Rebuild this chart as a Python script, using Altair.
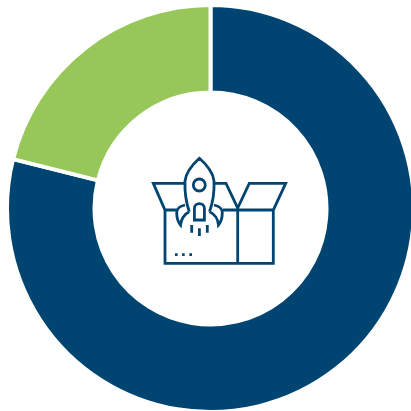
import altair as alt
import pandas as pd

# Donut shares, clockwise from twelve o'clock
segments = ["major", "minor"]
shares = [78.9, 21.1]
slice_order = [0, 1]
palette = ["#004571", "#96c758"]

INK = "#004571"

# Open box with a rocket rising out of it, as one outline path
BOX_ICON = (
    "M176.7,210 L165,210 L153.3,183.3 L185,183.3 "
    "M213.6,183.3 L226,183.3 L237.7,208 L249.3,183.3 L285.7,183.3 L273.3,210 L223,210 "
    "M165,210 L165,263.3 L273.3,263.3 L273.3,210 "
    "M237.7,208 L237.7,263.3 "
    "M175,254.7 L177.6,254.7 M182.1,254.7 L184.7,254.7 M189.4,254.7 L192,254.7 "
    "M189.3,211.7 C186,202 184.6,190 185,181 C186,172 192,165 199.4,158.3 "
    "C207,165 213,172 214,181 C214.4,190 213,202 209.5,211.7 "
    "M205.3,185 A6,6 0 1,1 193.3,185 A6,6 0 1,1 205.3,185 "
    "M194.4,220 L194.4,208.5 C194.4,202 204.4,202 204.4,208.5 L204.4,220 Z "
    "M185,205 C180,206 176.7,209 176.7,212.5 C176.7,217 178,222 180.5,225 "
    "C181,220 184,214 189.3,211.7 "
    "M214,205 C219,206 222.3,209 222.3,212.5 C222.3,217 221,222 218.5,225 "
    "C218,220 215,214 209.5,211.7 "
    "M191.7,225 L191.7,232.7 M199.4,228.3 L199.4,236 M207.3,225 L207.3,232.7"
)

table = pd.DataFrame({"segment": segments, "share": shares, "rank": slice_order})

ring = (
    alt.Chart(table)
    .mark_arc(innerRadius=116, outerRadius=203.5, stroke="white", strokeWidth=4)
    .encode(
        theta=alt.Theta("share:Q", stack=True),
        color=alt.Color(
            "segment:N",
            scale=alt.Scale(domain=segments, range=palette),
            legend=None,
        ),
        order=alt.Order("rank:O"),
        x=alt.value(210.5),
        y=alt.value(208.5),
    )
)

icon = (
    alt.Chart(pd.DataFrame({"glyph": ["box"]}))
    .mark_point(
        shape=BOX_ICON,
        size=4,
        filled=False,
        stroke=INK,
        strokeWidth=2.8,
        opacity=1,
    )
    .encode(x=alt.value(0), y=alt.value(0))
)

chart = (
    alt.layer(ring, icon)
    .properties(
        width=411,
        height=411,
        padding=0,
        background="white",
        autosize=alt.AutoSizeParams(type="none"),
    )
    .configure_view(stroke=None)
)

chart.save("out.html", embed_options={"renderer": "svg", "actions": False})
